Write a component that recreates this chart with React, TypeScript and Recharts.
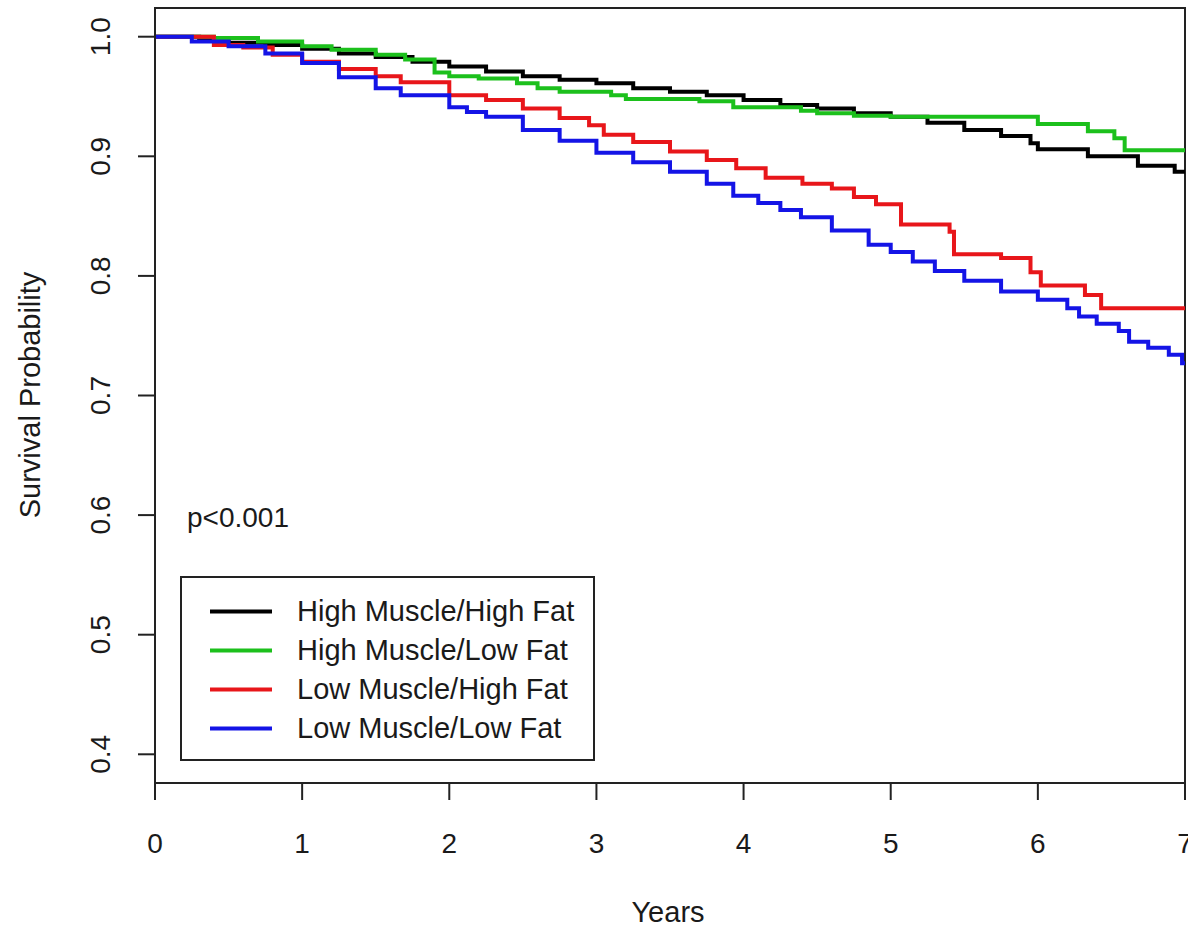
import React from 'react';
import { LineChart, Line, XAxis, YAxis, ReferenceArea, Legend, Customized } from 'recharts';

const xTicks = [0, 1, 2, 3, 4, 5, 6, 7];
const yTicks = [0.4, 0.5, 0.6, 0.7, 0.8, 0.9, 1.0];

const seriesNames = ['High Muscle/High Fat', 'High Muscle/Low Fat', 'Low Muscle/High Fat', 'Low Muscle/Low Fat'];
const seriesColors = ['#000000', '#1CC01C', '#E8161A', '#1414E6'];

const hhTimes = [0, 0.3, 0.5, 0.75, 1, 1.25, 1.5, 1.75, 2, 2.25, 2.5, 2.75, 3, 3.25, 3.5, 3.75, 4, 4.25, 4.5, 4.75, 5, 5.25, 5.5, 5.75, 5.95, 6.0, 6.34, 6.68, 6.93, 7];
const hhSurv = [1, 0.998, 0.995, 0.993, 0.99, 0.986, 0.983, 0.979, 0.975, 0.971, 0.967, 0.964, 0.961, 0.957, 0.954, 0.951, 0.947, 0.943, 0.94, 0.936, 0.933, 0.928, 0.922, 0.917, 0.911, 0.906, 0.9, 0.892, 0.887, 0.886];

const hlTimes = [0, 0.4, 0.7, 1, 1.2, 1.5, 1.7, 1.9, 2.0, 2.2, 2.46, 2.6, 2.75, 3.1, 3.2, 3.7, 3.93, 4.39, 4.5, 4.75, 5.0, 5.23, 6.0, 6.34, 6.52, 6.59, 7];
const hlSurv = [1, 0.999, 0.996, 0.992, 0.989, 0.985, 0.981, 0.97, 0.967, 0.965, 0.961, 0.957, 0.954, 0.951, 0.948, 0.946, 0.941, 0.938, 0.936, 0.934, 0.933, 0.933, 0.927, 0.921, 0.915, 0.905, 0.904];

const lhTimes = [0, 0.4, 0.6, 0.8, 1, 1.25, 1.5, 1.67, 2, 2.25, 2.5, 2.75, 2.95, 3.05, 3.25, 3.5, 3.75, 3.95, 4.15, 4.4, 4.6, 4.75, 4.9, 5.07, 5.4, 5.43, 5.75, 5.95, 6.02, 6.32, 6.43, 7];
const lhSurv = [1, 0.993, 0.991, 0.985, 0.979, 0.973, 0.967, 0.962, 0.951, 0.947, 0.94, 0.932, 0.926, 0.918, 0.912, 0.904, 0.897, 0.89, 0.882, 0.877, 0.873, 0.866, 0.86, 0.843, 0.837, 0.818, 0.815, 0.803, 0.792, 0.784, 0.773, 0.772];

const llTimes = [0, 0.25, 0.5, 0.75, 1.0, 1.25, 1.5, 1.67, 2.0, 2.12, 2.25, 2.5, 2.75, 3.0, 3.25, 3.5, 3.75, 3.93, 4.1, 4.25, 4.39, 4.6, 4.85, 5.0, 5.15, 5.3, 5.5, 5.75, 6.0, 6.2, 6.28, 6.4, 6.55, 6.62, 6.75, 6.89, 6.98, 7];
const llSurv = [1, 0.996, 0.992, 0.986, 0.978, 0.966, 0.957, 0.951, 0.941, 0.937, 0.933, 0.922, 0.913, 0.903, 0.895, 0.887, 0.877, 0.867, 0.861, 0.855, 0.849, 0.838, 0.826, 0.82, 0.812, 0.804, 0.796, 0.787, 0.78, 0.773, 0.766, 0.76, 0.754, 0.745, 0.74, 0.734, 0.727, 0.726];

const build = (times: number[], surv: number[]) => times.map((t, i) => ({ t, s: surv[i] }));
const seriesData = [build(hhTimes, hhSurv), build(hlTimes, hlSurv), build(lhTimes, lhSurv), build(llTimes, llSurv)];

const FONT = '"Liberation Sans", Arial, Helvetica, sans-serif';
const TXT = '#1a1a1a';

const XTick = (props: any) => {
  const { x, payload } = props;
  return (
    <text x={x} y={853} textAnchor="middle" fontSize={28} fontFamily={FONT} fill={TXT}>
      {payload.value}
    </text>
  );
};

const YTick = (props: any) => {
  const { y, payload } = props;
  return (
    <text transform={`translate(110, ${y}) rotate(-90)`} textAnchor="middle" fontSize={28} fontFamily={FONT} fill={TXT}>
      {Number(payload.value).toFixed(1)}
    </text>
  );
};

const Texts = () => (
  <g fontFamily={FONT} fill={TXT}>
    <text x={187} y={527} fontSize={28}>p&lt;0.001</text>
    <text x={668} y={922} fontSize={29} textAnchor="middle">Years</text>
    <text transform="translate(40, 395) rotate(-90)" fontSize={29} textAnchor="middle">Survival Probability</text>
  </g>
);

const LegendBox = (props: any) => {
  const payload = props.payload || [];
  return (
    <div style={{ width: 415, height: 185, border: '2px solid #222', boxSizing: 'border-box', position: 'relative', background: 'white' }}>
      {payload.map((p: any, i: number) => (
        <div key={i} style={{ position: 'absolute', left: 0, top: 14 + i * 39, height: 39, display: 'flex', alignItems: 'center' }}>
          <svg width={110} height={39} style={{ display: 'block' }}>
            <line x1={28} x2={90} y1={19.5} y2={19.5} stroke={p.color} strokeWidth={4} />
          </svg>
          <span style={{ fontFamily: FONT, fontSize: 29, color: TXT, marginLeft: 5, whiteSpace: 'nowrap', lineHeight: '39px' }}>{p.value}</span>
        </div>
      ))}
    </div>
  );
};

export default function App() {
  return (
    <div style={{ position: 'absolute', left: 0, top: 0, width: 1188, height: 930, background: 'white' }}>
      <LineChart width={1188} height={930} margin={{ top: 8, right: 3, bottom: 0, left: 0 }}>
        <XAxis
          type="number"
          dataKey="t"
          domain={[0, 7]}
          ticks={xTicks}
          allowDataOverflow
          height={147}
          tickSize={17}
          tick={<XTick />}
          axisLine={{ stroke: '#222', strokeWidth: 2 }}
          tickLine={{ stroke: '#222', strokeWidth: 2 }}
          interval={0}
        />
        <YAxis
          type="number"
          dataKey="s"
          domain={[0.376, 1.024]}
          ticks={yTicks}
          allowDataOverflow
          width={155}
          tickSize={17}
          tick={<YTick />}
          axisLine={{ stroke: '#222', strokeWidth: 2 }}
          tickLine={{ stroke: '#222', strokeWidth: 2 }}
          interval={0}
        />
        <ReferenceArea x1={0} x2={7} y1={0.376} y2={1.024} fill="none" stroke="#222" strokeWidth={2} ifOverflow="visible" />
        {seriesData.map((d, i) => (
          <Line
            key={seriesNames[i]}
            data={d}
            dataKey="s"
            name={seriesNames[i]}
            type="stepAfter"
            stroke={seriesColors[i]}
            strokeWidth={4}
            dot={false}
            activeDot={false}
            isAnimationActive={false}
          />
        ))}
        <Legend
          layout="vertical"
          align="center"
          verticalAlign="middle"
          content={<LegendBox />}
          wrapperStyle={{ position: 'absolute', left: 180, top: 576, width: 415, height: 185 }}
        />
        <Customized component={<Texts />} />
      </LineChart>
    </div>
  );
}
